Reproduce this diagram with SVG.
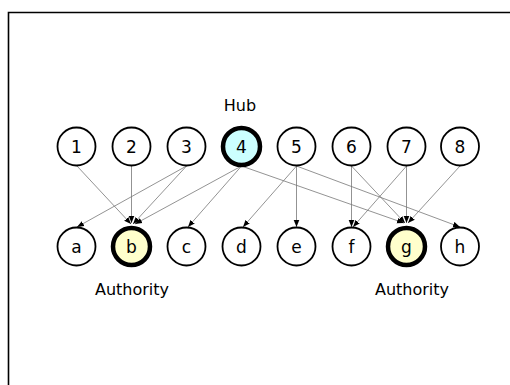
<svg xmlns="http://www.w3.org/2000/svg" width="510" height="385" viewBox="0 0 510 385">
<style>
.n{fill:#fff;stroke:#000;stroke-width:1.8}
.hub{fill:#ccffff;stroke:#000;stroke-width:4.5}
.auth{fill:#ffffcc;stroke:#000;stroke-width:4.5}
.t{font-family:"DejaVu Sans",sans-serif;font-size:17px;text-anchor:middle;fill:#000}
.lbl{font-family:"DejaVu Sans",sans-serif;font-size:16px;text-anchor:middle;fill:#000}
.e{stroke:#777;stroke-width:0.8;fill:none;marker-end:url(#ah)}
</style>
<defs>
<marker id="ah" viewBox="0 0 10 10" refX="10" refY="5" markerWidth="7" markerHeight="7" markerUnits="userSpaceOnUse" orient="auto">
<path d="M0,1 L10,5 L0,9 Z" fill="#000"/>
</marker>
</defs>
<rect x="0" y="0" width="510" height="385" fill="#fff"/>
<path d="M8.5,385 V12.5 H510" fill="none" stroke="#000" stroke-width="1.6"/>
<g id="connectors">
<line class="e" x1="77" y1="166" x2="131" y2="224"/>
<line class="e" x1="131.5" y1="166" x2="131.5" y2="223"/>
<line class="e" x1="186.5" y1="166" x2="77" y2="227"/>
<line class="e" x1="186.5" y1="166" x2="133" y2="224"/>
<line class="e" x1="241.5" y1="166" x2="135" y2="224"/>
<line class="e" x1="241.5" y1="166" x2="188" y2="227"/>
<line class="e" x1="241.5" y1="166" x2="404" y2="223"/>
<line class="e" x1="296.5" y1="166" x2="243" y2="227"/>
<line class="e" x1="296.5" y1="166" x2="296.5" y2="227"/>
<line class="e" x1="296.5" y1="166" x2="460" y2="227"/>
<line class="e" x1="351.5" y1="166" x2="351.5" y2="227"/>
<line class="e" x1="351.5" y1="166" x2="405" y2="223"/>
<line class="e" x1="406.5" y1="166" x2="353" y2="227"/>
<line class="e" x1="406.5" y1="166" x2="406.5" y2="223"/>
<line class="e" x1="460" y1="166" x2="408" y2="223"/>
</g>
<text class="lbl" x="240" y="111">Hub</text>
<text class="lbl" x="132" y="295">Authority</text>
<text class="lbl" x="412" y="295">Authority</text>
<g id="n1"><circle class="n" cx="76.5" cy="146.5" r="19"/><text class="t" x="76.5" y="152.5">1</text></g>
<g id="n2"><circle class="n" cx="131.5" cy="146.5" r="19"/><text class="t" x="131.5" y="152.5">2</text></g>
<g id="n3"><circle class="n" cx="186.5" cy="146.5" r="19"/><text class="t" x="186.5" y="152.5">3</text></g>
<g id="n4"><circle class="hub" cx="241.5" cy="146.5" r="18.5"/><text class="t" x="241.5" y="152.5">4</text></g>
<g id="n5"><circle class="n" cx="296.5" cy="146.5" r="19"/><text class="t" x="296.5" y="152.5">5</text></g>
<g id="n6"><circle class="n" cx="351.5" cy="146.5" r="19"/><text class="t" x="351.5" y="152.5">6</text></g>
<g id="n7"><circle class="n" cx="406.5" cy="146.5" r="19"/><text class="t" x="406.5" y="152.5">7</text></g>
<g id="n8"><circle class="n" cx="460" cy="146.5" r="19"/><text class="t" x="460" y="152.5">8</text></g>
<g id="na"><circle class="n" cx="76.5" cy="246.5" r="19"/><text class="t" x="76.5" y="252.5">a</text></g>
<g id="nb"><circle class="auth" cx="131.5" cy="246.5" r="18.5"/><text class="t" x="131.5" y="252.5">b</text></g>
<g id="nc"><circle class="n" cx="186.5" cy="246.5" r="19"/><text class="t" x="186.5" y="252.5">c</text></g>
<g id="nd"><circle class="n" cx="241.5" cy="246.5" r="19"/><text class="t" x="241.5" y="252.5">d</text></g>
<g id="ne"><circle class="n" cx="296.5" cy="246.5" r="19"/><text class="t" x="296.5" y="252.5">e</text></g>
<g id="nf"><circle class="n" cx="351.5" cy="246.5" r="19"/><text class="t" x="351.5" y="252.5">f</text></g>
<g id="ng"><circle class="auth" cx="406.5" cy="246.5" r="18.5"/><text class="t" x="406.5" y="252.5">g</text></g>
<g id="nh"><circle class="n" cx="460" cy="246.5" r="19"/><text class="t" x="460" y="252.5">h</text></g>
</svg>
